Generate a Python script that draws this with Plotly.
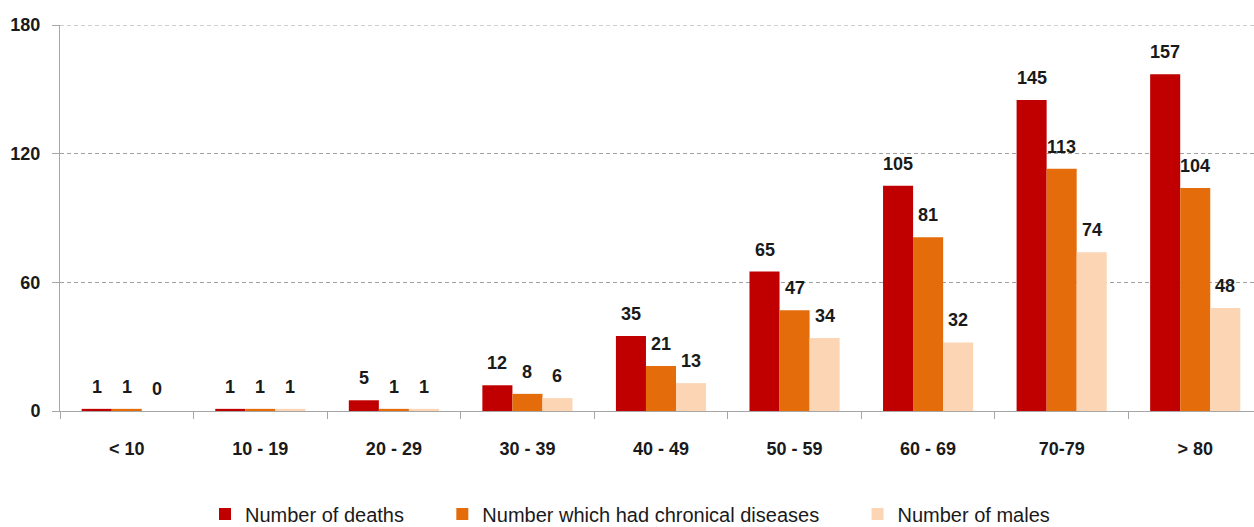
import plotly.graph_objects as go

categories = ["< 10", "10 - 19", "20 - 29", "30 - 39", "40 - 49", "50 - 59", "60 - 69", "70-79", "> 80"]
deaths = [1, 1, 5, 12, 35, 65, 105, 145, 157]
chronic = [1, 1, 1, 8, 21, 47, 81, 113, 104]
males = [0, 1, 1, 6, 13, 34, 32, 74, 48]
y_ticks = [0, 60, 120, 180]

series = [
    ("Number of deaths", deaths, "#C00000"),
    ("Number which had chronical diseases", chronic, "#E46C0A"),
    ("Number of males", males, "#FCD5B5"),
]

BARGAP = 0.325
n = len(series)
bw = (1 - BARGAP) / n
GRID = "#A0A0A0"
DASH = "4px,3px"
W, H = 1262, 527
L, T, B = 60, 25, 116
PW = W - L

pad = "\u00a0" * 6
fig = go.Figure()
annotations = []
for i, (name, vals, col) in enumerate(series):
    fig.add_trace(go.Bar(
        x=categories, y=vals, name=name + (pad if i < n - 1 else ""),
        marker=dict(color=col, line=dict(width=0)),
    ))
    off = (i - (n - 1) / 2) * bw
    for j, v in enumerate(vals):
        annotations.append(dict(
            x=j + off, y=v, xref="x", yref="y", text=str(v), showarrow=False,
            xanchor="center", yanchor="bottom", yshift=10,
            font=dict(family="Liberation Sans", size=18, color="#1a1a1a", weight="bold"),
        ))

fig.update_layout(
    width=W, height=H,
    margin=dict(l=L, r=0, t=T, b=B, autoexpand=False),
    paper_bgcolor="white", plot_bgcolor="white",
    barmode="group", bargap=BARGAP, bargroupgap=0,
    font=dict(family="Liberation Sans", color="#1a1a1a"),
    showlegend=True,
    legend=dict(orientation="h", x=(205 - L) / PW, xanchor="left", y=(411 - 514) / 386, yanchor="middle",
                font=dict(family="Liberation Sans", size=20, color="#1a1a1a"),
                itemwidth=30, traceorder="normal"),
    annotations=annotations,
    shapes=[dict(type="line", xref="paper", yref="y", x0=0, x1=1, y0=y_ticks[-1], y1=y_ticks[-1],
                 line=dict(color=GRID, width=1, dash=DASH), layer="below")],
)
fig.update_xaxes(
    type="category", showline=True, linecolor="#A6A6A6", linewidth=1,
    ticks="outside", tickson="boundaries", ticklen=7, tickcolor="#A6A6A6",
    tickfont=dict(family="Liberation Sans", size=18, color="#1a1a1a", weight="bold"),
    showgrid=False, automargin=False, ticklabelstandoff=21,
)
fig.update_yaxes(
    range=[0, 180], tickvals=y_ticks, showline=True, linecolor="#A6A6A6", linewidth=1,
    ticks="outside", ticklen=7, tickcolor="#A6A6A6",
    tickfont=dict(family="Liberation Sans", size=18, color="#1a1a1a", weight="bold"),
    showgrid=True, gridcolor=GRID, griddash=DASH, gridwidth=1,
    zeroline=False, ticklabelstandoff=8, automargin=False,
)

fig.write_html("out.html", config={"displayModeBar": False},
               post_script="document.body.style.margin='0';document.body.style.padding='0';"
                           "document.body.style.overflow='hidden';document.documentElement.style.overflow='hidden';")
